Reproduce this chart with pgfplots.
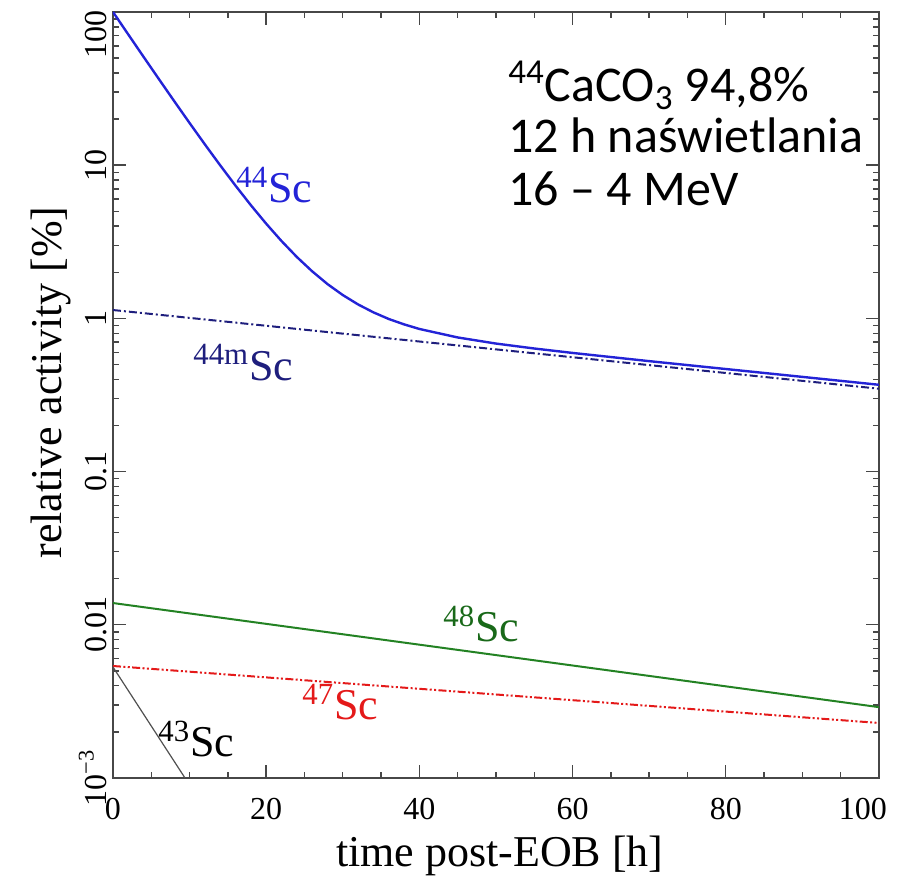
\documentclass[border=0pt]{standalone}
\usepackage{fontspec}
\setmainfont{Liberation Serif}
\newfontfamily\calibri{Carlito}
\usepackage{pgfplots}
\pgfplotsset{compat=1.18}
\definecolor{scblue}{RGB}{35,35,215}
\definecolor{scnavy}{RGB}{30,30,125}
\definecolor{scgreen}{RGB}{35,130,35}
\definecolor{sclgreen}{RGB}{25,105,25}
\definecolor{scred}{RGB}{228,25,25}
\definecolor{scgray}{RGB}{80,80,80}
\newcommand{\lbl}{\fontsize{22}{26}\selectfont}
\newcommand{\tkf}{\fontsize{16}{18}\selectfont}
\newcommand{\boxf}{\calibri\fontsize{25}{30}\selectfont}
\begin{document}
\begin{tikzpicture}
\useasboundingbox (-56.5pt,-51.5pt) rectangle (394.5pt,389pt);
\begin{axis}[
  at={(0pt,0pt)}, anchor=south west,
  scale only axis, width=383pt, height=383pt,
  xmin=0, xmax=100, ymin=1e-3, ymax=100, ymode=log,
  xtick={0,20,40,60,80,100},
  xticklabels={0,20,40,60,80,{100\rule{16pt}{0pt}}},
  minor x tick num=3,
  ytick={1e-3,1e-2,1e-1,1,10,100},
  yticklabels={{10\textsuperscript{−3}},0.01,0.1,1,10,{100\rule{23pt}{0pt}}},
  minor ytick={2e-3,3e-3,4e-3,5e-3,6e-3,7e-3,8e-3,9e-3,
    0.02,0.03,0.04,0.05,0.06,0.07,0.08,0.09,
    0.2,0.3,0.4,0.5,0.6,0.7,0.8,0.9,
    2,3,4,5,6,7,8,9,20,30,40,50,60,70,80,90},
  tick align=inside,
  major tick length=6.5pt, minor tick length=3pt,
  axis line style={black!72, line width=0.8pt},
  every tick/.append style={black!72, line width=0.7pt},
  /pgf/number format/assume math mode=true,
  xticklabel style={font=\tkf, anchor=north, inner sep=0pt, yshift=-10pt},
  yticklabel style={font=\tkf, rotate=90, anchor=south, inner sep=3pt},
  xlabel={time post-EOB [h]},
  ylabel={relative activity [\%]},
  every axis x label/.style={at={(axis description cs:0.505,-0.1162)}, anchor=base, font=\lbl},
  every axis y label/.style={at={(axis description cs:-0.0666,0.5163)}, anchor=base, rotate=90, font=\lbl},
]
\addplot[scnavy, line width=1pt, dash pattern=on 4pt off 1.5pt on 1pt off 1.5pt] coordinates {(0,1.134) (50,0.6277) (100,0.3475)};
\addplot[scblue, line width=1.2pt] table {
t a
0 100
2 71.28
4 50.89
6 36.43
8 26.15
10 18.85
12 13.66
14 9.97
16 7.35
18 5.48
20 4.15
22 3.199
24 2.517
26 2.029
28 1.675
30 1.420
32 1.233
34 1.095
36 0.991
38 0.914
40 0.853
45 0.751
50 0.685
55 0.636
60 0.595
70 0.526
80 0.4672
90 0.4151
100 0.3687
};
\addplot[scgreen, line width=1pt] coordinates {(0,0.01387) (100,0.0029)};
\addplot[scred, line width=1pt, dash pattern=on 4pt off 1.2pt on 1pt off 1.2pt on 1pt off 1.2pt] coordinates {(0,0.005383) (100,0.002286)};
\addplot[scgray, line width=0.6pt] coordinates {(0,0.0053) (9.4,0.001)};

\node[anchor=base west, inner sep=0pt, text=scblue, font=\lbl] at (axis cs:16.06,5.67) {\textsuperscript{44}Sc};
\node[anchor=base west, inner sep=0pt, text=scnavy, font=\lbl] at (axis cs:10.44,0.396) {\textsuperscript{44m}Sc};
\node[anchor=base west, inner sep=0pt, text=sclgreen, font=\lbl] at (axis cs:43.08,0.00773) {\textsuperscript{48}Sc};
\node[anchor=base west, inner sep=0pt, text=scred, font=\lbl] at (axis cs:24.67,0.002393) {\textsuperscript{47}Sc};
\node[anchor=base west, inner sep=0pt, text=black, font=\lbl] at (axis cs:5.87,0.001371) {\textsuperscript{43}Sc};

\node[anchor=base west, inner sep=0pt, font=\boxf] at (axis description cs:0.5157,0.8825) {\raisebox{0pt}[\height][0pt]{\textsuperscript{44}CaCO\textsubscript{3} 94,8\%}};
\node[anchor=base west, inner sep=0pt, font=\boxf] at (axis description cs:0.5157,0.8172) {\raisebox{0pt}[\height][0pt]{12 h naświetlania}};
\node[anchor=base west, inner sep=0pt, font=\boxf] at (axis description cs:0.5157,0.748) {16 – 4 MeV};
\end{axis}
\end{tikzpicture}
\end{document}
